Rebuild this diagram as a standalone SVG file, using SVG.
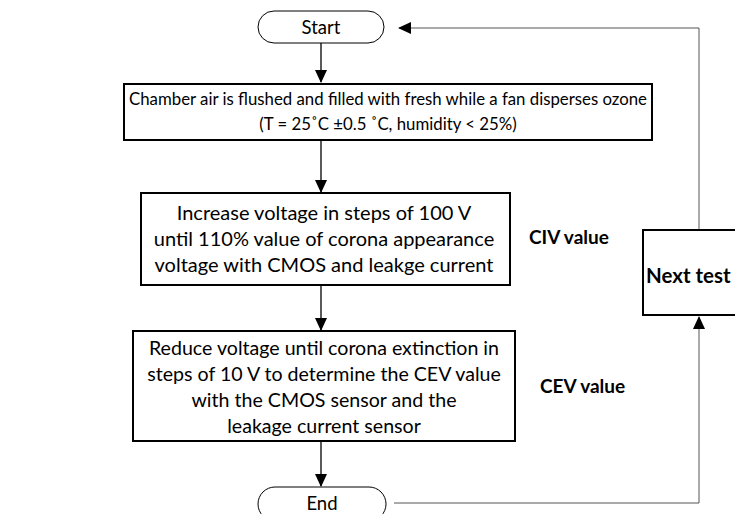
<svg xmlns="http://www.w3.org/2000/svg" width="735" height="514" viewBox="0 0 735 514">
<defs>
<style>
.box{fill:#fff;stroke:#000;stroke-width:2}
.term{fill:#fff;stroke:#000;stroke-width:1}
.t{font-family:Lato,"Liberation Sans",sans-serif;font-size:16.8px;fill:#000;text-anchor:middle}
.t2{font-family:Lato,"Liberation Sans",sans-serif;font-size:19.6px;fill:#000;text-anchor:middle}
.t3{font-family:Lato,"Liberation Sans",sans-serif;font-size:20px;fill:#000;text-anchor:middle}
.tt{font-family:Lato,"Liberation Sans",sans-serif;font-size:18.5px;fill:#000;text-anchor:middle}
.b{font-family:Lato,"Liberation Sans",sans-serif;font-size:19px;font-weight:bold;fill:#000}
.c{fill:none;stroke:#000;stroke-width:1.3}
.c2{fill:none;stroke:#555;stroke-width:1}
</style>
<marker id="ah" markerWidth="13" markerHeight="12" refX="12" refY="6" orient="auto" markerUnits="userSpaceOnUse">
<path d="M0,0 L13,6 L0,12 Z" fill="#000"/>
</marker>
</defs>
<g id="connectors">
<line class="c" x1="321" y1="43" x2="321" y2="82" marker-end="url(#ah)"/>
<line class="c" x1="321" y1="140" x2="321" y2="192" marker-end="url(#ah)"/>
<line class="c" x1="321" y1="285" x2="321" y2="330" marker-end="url(#ah)"/>
<line class="c" x1="321" y1="441" x2="321" y2="486" marker-end="url(#ah)"/>
<polyline class="c2" points="394,503 699,503 699,317" marker-end="url(#ah)"/>
<polyline class="c2" points="699,230 699,28 399,28" marker-end="url(#ah)"/>
</g>
<g id="start">
<rect class="term" x="258" y="11" width="126" height="32" rx="16"/>
<text class="tt" x="321" y="34">Start</text>
</g>
<g id="flush">
<rect class="box" x="124" y="84" width="528" height="56"/>
<text class="t" x="388" y="105">Chamber air is flushed and filled with fresh while a fan disperses ozone</text>
<text class="t" x="388" y="130">(T = 25˚C ±0.5 ˚C, humidity &lt; 25%)</text>
</g>
<g id="increase">
<rect class="box" x="141" y="193" width="369" height="92"/>
<text class="t3" x="324" y="220">Increase voltage in steps of 100 V</text>
<text class="t3" x="324" y="246">until 110% value of corona appearance</text>
<text class="t3" x="324" y="272">voltage with CMOS and leakge current</text>
</g>
<g id="civ">
<text class="b" x="529" y="244">CIV value</text>
</g>
<g id="reduce">
<rect class="box" x="133" y="331" width="382" height="110"/>
<text class="t2" x="324" y="355">Reduce voltage until corona extinction in</text>
<text class="t2" x="324" y="381">steps of 10 V to determine the CEV value</text>
<text class="t2" x="324" y="407">with the CMOS sensor and the</text>
<text class="t2" x="324" y="433">leakage current sensor</text>
</g>
<g id="cev">
<text class="b" x="540" y="393">CEV value</text>
</g>
<g id="end">
<rect class="term" x="258" y="487" width="128" height="34" rx="17"/>
<text class="tt" x="322" y="510">End</text>
</g>
<g id="next">
<rect class="box" x="643" y="230" width="110" height="85"/>
<text class="b" x="646" y="283" style="font-size:20.5px">Next test</text>
</g>
</svg>
